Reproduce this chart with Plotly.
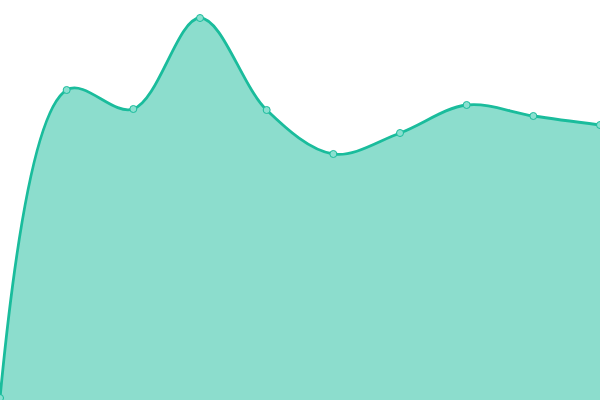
import plotly.graph_objects as go

x_vals = [0, 1, 2, 3, 4, 5, 6, 7, 8, 9]
y_vals = [2, 310, 291, 382, 290, 246, 267, 295, 284, 275]

fig = go.Figure()
fig.add_trace(go.Scatter(
    x=x_vals, y=y_vals,
    mode="lines+markers",
    line=dict(color="#1abc9c", width=2.8, shape="spline", smoothing=1),
    marker=dict(size=7, color="#8ae0d0", line=dict(color="#1abc9c", width=1)),
    fill="tozeroy",
    fillcolor="rgba(26,188,156,0.5)",
    hoverinfo="skip",
))
fig.update_layout(
    width=600, height=400,
    margin=dict(l=0, r=0, t=0, b=0),
    paper_bgcolor="white", plot_bgcolor="white",
    showlegend=False,
    xaxis=dict(visible=False, range=[0, 9]),
    yaxis=dict(visible=False, range=[0, 400]),
)
fig.write_html(
    "out.html",
    config={"displayModeBar": False, "staticPlot": True},
    post_script="document.body.style.margin='0';document.body.style.overflow='hidden';",
)
